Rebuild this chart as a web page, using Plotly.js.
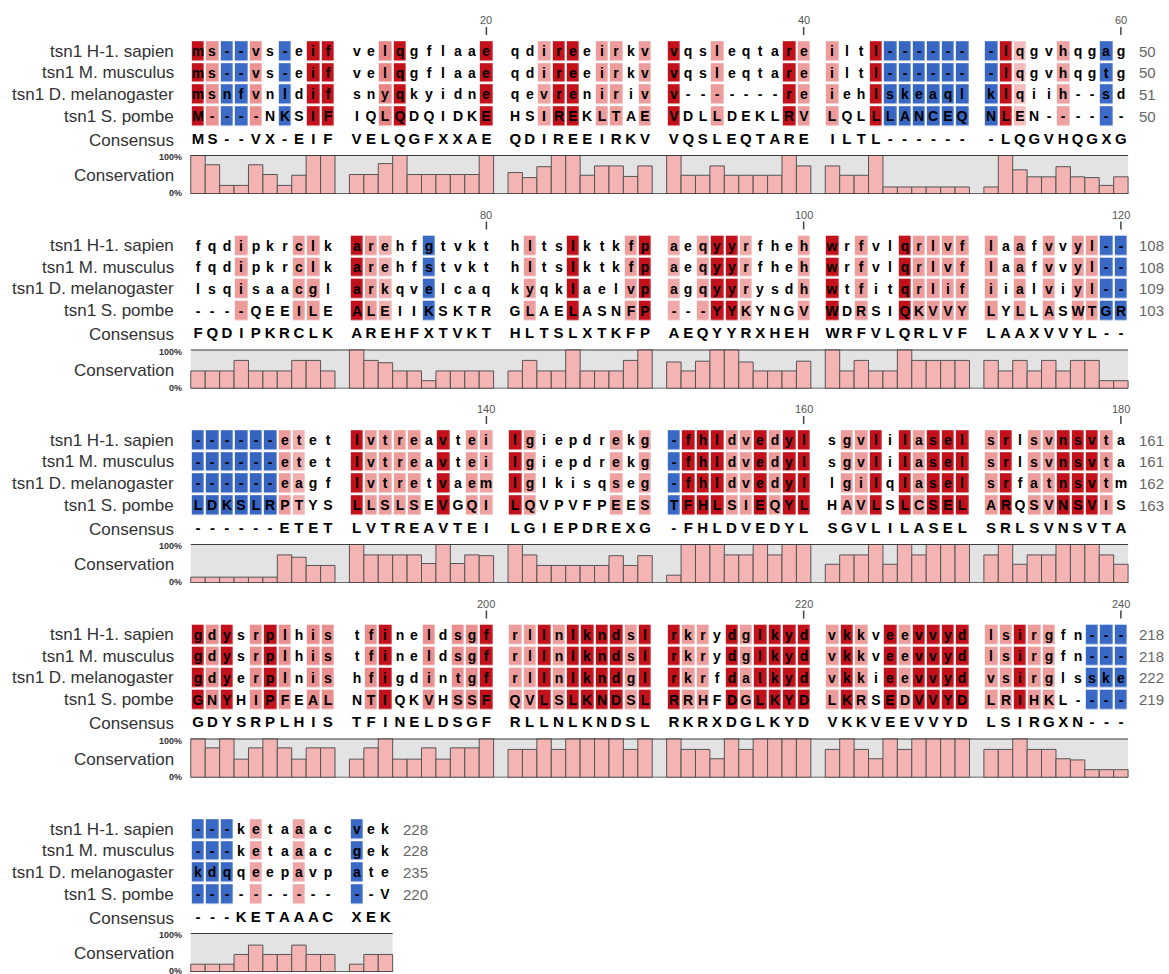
<!DOCTYPE html>
<html><head><meta charset="utf-8">
<script src="https://cdn.plot.ly/plotly-3.0.1.min.js"></script>
<style>html,body{margin:0;padding:0;background:#fff}#chart{width:1169px;height:974px}</style>
</head><body><div id="chart"></div>
<script>
// ---------- DATA ----------
const species = ["tsn1 H-1. sapien", "tsn1 M. musculus", "tsn1 D. melanogaster", "tsn1 S. pombe"];

const seqs1 = [
  "ms--vs-eif" + "velqgflaae" + "qdireeirkv" + "vqsleqtare" + "iltl------" + "-lqgvhqgag",
  "ms--vs-eif" + "velqgflaae" + "qdireeirkv" + "vqsleqtare" + "iltl------" + "-lqgvhqgtg",
  "msnfvnldif" + "snyqkyidne" + "qevreniriv" + "v-------re" + "iehlskeaql" + "klqiih--sd",
  "M----NKSIF" + "IQLQDQIDKE" + "HSIREKLTAE" + "VDLLDEKLRV" + "LQLLLANCEQ" + "NLEN------"
];
const consensus1 = "MS--VX-EIF" + "VELQGFXXAE" + "QDIREEIRKV" + "VQSLEQTARE" + "ILTL------" + "-LQGVHQGXG";
const conservation1 = [
  100, 75, 22, 22, 75, 50, 22, 48, 100, 100,
  50, 50, 78, 100, 50, 50, 50, 50, 50, 100,
  55, 42, 70, 100, 100, 48, 72, 72, 45, 72,
  100, 48, 48, 72, 48, 48, 48, 48, 100, 72,
  72, 48, 48, 100, 18, 18, 18, 18, 18, 18,
  18, 100, 62, 44, 44, 70, 44, 42, 22, 44
];
const ends1 = [50, 50, 51, 50];
const ticks1 = [20, 40, 60];

const seqs2 = [
  "fqdipkrclk" + "arehfgtvkt" + "hltslktkfp" + "aeqyyrfheh" + "wrfvlqrlvf" + "laafvvyl--",
  "fqdipkrclk" + "arehfstvkt" + "hltslktkfp" + "aeqyyrfheh" + "wrfvlqrlvf" + "laafvvyl--",
  "lsqisaacgl" + "arkqvelcaq" + "kyqklaelvp" + "agqyyrysdh" + "wtfitqrlif" + "iialviyl--",
  "----QEEILE" + "ALEIIKSKTR" + "GLAELASNFP" + "---YYKYNGV" + "WDRSIQKVVY" + "LYLLASWTGR"
];
const consensus2 = "FQDIPKRCLK" + "AREHFXTVKT" + "HLTSLXTKFP" + "AEQYYRXHEH" + "WRFVLQRLVF" + "LAAXVVYL--";
const conservation2 = [
  45, 45, 45, 72, 45, 45, 45, 72, 72, 45,
  100, 72, 66, 45, 45, 20, 45, 45, 45, 45,
  45, 72, 45, 45, 100, 45, 45, 45, 72, 100,
  68, 45, 70, 100, 100, 68, 45, 45, 45, 70,
  100, 45, 72, 45, 45, 100, 72, 72, 72, 72,
  72, 45, 72, 45, 72, 45, 72, 72, 20, 20
];
const ends2 = [108, 108, 109, 103];
const ticks2 = [80, 100, 120];

const seqs3 = [
  "------etet" + "lvtreavtei" + "lgiepdrekg" + "-fhldvedyl" + "sgvlilasel" + "srlsvnsvta",
  "------etet" + "lvtreavtei" + "lgiepdrekg" + "-fhldvedyl" + "sgvlilasel" + "srlsvnsvta",
  "------eagf" + "lvtretvaem" + "lglkisqseg" + "-fhldvedyl" + "lgilqlasel" + "srfatnsvtm",
  "LDKSLRPTYS" + "LLSLSEVGQI" + "LQVPVFPEES" + "TFHLSIEQYL" + "HAVLSLCSEL" + "ARQSVNSVIS"
];
const consensus3 = "------ETET" + "LVTREAVTEI" + "LGIEPDREXG" + "-FHLDVEDYL" + "SGVLILASEL" + "SRLSVNSVTA";
const conservation3 = [
  15, 15, 15, 15, 15, 15, 72, 66, 45, 45,
  100, 72, 72, 72, 72, 50, 100, 50, 72, 70,
  100, 72, 45, 45, 45, 45, 45, 70, 45, 70,
  20, 100, 100, 100, 72, 72, 100, 72, 100, 100,
  48, 72, 72, 100, 48, 100, 72, 100, 100, 100,
  72, 100, 48, 72, 72, 100, 100, 100, 72, 48
];
const ends3 = [161, 161, 162, 163];
const ticks3 = [140, 160, 180];

const seqs4 = [
  "gdysrplhis" + "tfineldsgf" + "rllnlkndsl" + "rkrydglkyd" + "vkkveevvyd" + "lsirgfn---",
  "gdysrplhis" + "tfineldsgf" + "rllnlkndsl" + "rkrydglkyd" + "vkkveevvyd" + "lsirgfn---",
  "gdyerplnis" + "hfigdintgf" + "rllnlkndgl" + "rkrfdalkyd" + "vkkieevvyd" + "vsirglsske",
  "GNYHIPFEAL" + "NTIQKVHSSF" + "QVLSLKNDSL" + "RRHFDGLKYD" + "LKRSEDVVYD" + "LRIHKL----"
];
const consensus4 = "GDYSRPLHIS" + "TFINELDSGF" + "RLLNLKNDSL" + "RKRXDGLKYD" + "VKKVEEVVYD" + "LSIRGXN---";
const conservation4 = [
  100, 76, 100, 47, 76, 100, 76, 47, 76, 76,
  47, 76, 100, 47, 47, 76, 47, 76, 76, 100,
  72, 72, 100, 72, 100, 100, 100, 100, 72, 100,
  100, 72, 72, 48, 100, 72, 100, 100, 100, 100,
  72, 100, 72, 48, 100, 72, 100, 100, 100, 100,
  72, 72, 100, 72, 72, 48, 45, 20, 20, 20
];
const ends4 = [218, 218, 222, 219];
const ticks4 = [200, 220, 240];

const seqs5 = [
  "---ketaaac" + "vek",
  "---ketaaac" + "gek",
  "kdqqeepavp" + "ate",
  "----------" + "--V"
];
const consensus5 = "---KETAAAC" + "XEK";
const conservation5 = [20, 20, 20, 45, 69, 45, 45, 69, 45, 45, 20, 45, 45];
const ends5 = [228, 228, 235, 220];
const ticks5 = [];

// ---------- LAYOUT CONSTANTS ----------
const W = 1169, H = 974;
const PX0 = 198, PITCH = 14.42;
const ROW1 = 51, BLOCK = 194.5, ROWH = 21.7;
const FONT = "Liberation Sans, Arial, sans-serif";

const blocks = [
  {seqs: seqs1, consensus: consensus1, conservation: conservation1, ends: ends1, ticks: ticks1},
  {seqs: seqs2, consensus: consensus2, conservation: conservation2, ends: ends2, ticks: ticks2},
  {seqs: seqs3, consensus: consensus3, conservation: conservation3, ends: ends3, ticks: ticks3},
  {seqs: seqs4, consensus: consensus4, conservation: conservation4, ends: ends4, ticks: ticks4},
  {seqs: seqs5, consensus: consensus5, conservation: conservation5, ends: ends5, ticks: ticks5}
];

const slotOf = i => i + Math.floor(i / 10);

const colorscale = [
  [0, '#2b57b2'], [0.25, '#3d6dca'], [0.32, '#5a84d3'], [0.34, '#ffffff'],
  [0.55, '#ffffff'], [0.57, '#f6cbcb'], [0.66, '#f1afaf'], [0.76, '#ea8f8f'],
  [0.88, '#dc5b5b'], [0.95, '#cb1f24'], [1, '#c3111b']
];

const traces = [];
const shapes = [];
const annotations = [];
const layout = {
  width: W, height: H, autosize: false,
  margin: {l: 0, r: 0, t: 0, b: 0, pad: 0},
  paper_bgcolor: '#ffffff', plot_bgcolor: 'rgba(0,0,0,0)',
  showlegend: false,
  font: {family: FONT, color: '#333'},
  xaxis: {range: [-PX0 / PITCH, (W - PX0) / PITCH], visible: false, fixedrange: true},
  yaxis: {range: [H, 0], visible: false, fixedrange: true, domain: [0, 1]},
  bargap: 0
};

blocks.forEach((blk, b) => {
  const y0 = ROW1 + b * BLOCK;
  const rowYs = [0, 1, 2, 3].map(r => y0 + r * ROWH);
  const consY = y0 + 89;
  const panelTop = consY + 15, panelBot = consY + 54;
  const n = blk.conservation.length;
  const nSlots = slotOf(n - 1) + 1;
  const slots = [];
  for (let i = 0; i < n; i++) slots.push(slotOf(i));
  const xs = [];
  for (let s = 0; s < nSlots; s++) xs.push(s);

  const z = rowYs.map(() => xs.map(() => null));
  const txt = rowYs.map(() => xs.map(() => ''));
  for (let r = 0; r < 4; r++) {
    for (let i = 0; i < n; i++) {
      z[r][slots[i]] = blk.conservation[i];
      txt[r][slots[i]] = blk.seqs[r][i];
    }
  }
  traces.push({
    type: 'heatmap', x: xs, y: rowYs, z: z, text: txt,
    texttemplate: '%{text}',
    textfont: {family: FONT, size: 14, color: '#000', weight: 'bold'},
    colorscale: colorscale, zmin: 0, zmax: 100, showscale: false,
    xgap: 2.2, ygap: 2.6, hoverinfo: 'skip', xaxis: 'x', yaxis: 'y'
  });

  // consensus row
  traces.push({
    type: 'scatter', mode: 'text', x: slots, y: slots.map(() => consY),
    text: blk.consensus.split(''),
    textfont: {family: FONT, size: 15, color: '#000', weight: 'bold'},
    hoverinfo: 'skip', xaxis: 'x', yaxis: 'y', cliponaxis: false
  });

  // conservation bars
  const yName = 'y' + (b + 2);
  layout['yaxis' + (b + 2)] = {
    domain: [1 - panelBot / H, 1 - panelTop / H], range: [0, 100],
    visible: false, fixedrange: true, anchor: 'x'
  };
  traces.push({
    type: 'bar', x: slots, y: blk.conservation, width: 1,
    marker: {color: '#f4b4b4', line: {color: '#555555', width: 1}},
    hoverinfo: 'skip', xaxis: 'x', yaxis: yName
  });
  shapes.push({type: 'rect', xref: 'x', yref: yName, x0: -0.5, x1: nSlots - 0.5, y0: 0, y1: 100,
    fillcolor: '#e3e3e3', line: {width: 0}, layer: 'below'});
  shapes.push({type: 'line', xref: 'x', yref: yName, x0: -0.5, x1: nSlots - 0.5, y0: 100, y1: 100,
    line: {color: '#3c3c3c', width: 2}});
  shapes.push({type: 'line', xref: 'x', yref: yName, x0: -0.5, x1: nSlots - 0.5, y0: 0, y1: 0,
    line: {color: '#3c3c3c', width: 1.5}});

  // ruler ticks
  blk.ticks.forEach(t => {
    const s = slotOf(t - 60 * b - 1);
    shapes.push({type: 'line', xref: 'x', yref: 'y', x0: s, x1: s, y0: y0 - 24, y1: y0 - 16,
      line: {color: '#444', width: 1.5}});
    annotations.push({xref: 'x', yref: 'y', x: s, y: y0 - 31, text: String(t), showarrow: false,
      font: {family: FONT, size: 11, color: '#555'}, xanchor: 'center', yanchor: 'middle'});
  });

  // row labels and end numbers
  species.forEach((name, r) => {
    annotations.push({xref: 'x', yref: 'y', x: -1.5, y: rowYs[r], text: name, showarrow: false,
      font: {family: FONT, size: 17, color: '#333'}, xanchor: 'right', yanchor: 'middle'});
    annotations.push({xref: 'x', yref: 'y', x: nSlots - 1 + 1.1, y: rowYs[r], text: String(blk.ends[r]),
      showarrow: false, font: {family: FONT, size: 15, color: '#666'}, xanchor: 'left', yanchor: 'middle'});
  });
  annotations.push({xref: 'x', yref: 'y', x: -1.5, y: consY, text: 'Consensus', showarrow: false,
    font: {family: FONT, size: 17, color: '#333'}, xanchor: 'right', yanchor: 'middle'});
  annotations.push({xref: 'x', yref: 'y', x: -1.5, y: (panelTop + panelBot) / 2 + 1, text: 'Conservation', showarrow: false,
    font: {family: FONT, size: 17, color: '#333'}, xanchor: 'right', yanchor: 'middle'});
  annotations.push({xref: 'x', yref: 'y', x: -1.0, y: panelTop + 2, text: '100%', showarrow: false,
    font: {family: FONT, size: 9, color: '#333', weight: 'bold'}, xanchor: 'right', yanchor: 'middle'});
  annotations.push({xref: 'x', yref: 'y', x: -1.0, y: panelBot - 1, text: '0%', showarrow: false,
    font: {family: FONT, size: 9, color: '#333', weight: 'bold'}, xanchor: 'right', yanchor: 'middle'});
});

layout.shapes = shapes;
layout.annotations = annotations;

Plotly.newPlot('chart', traces, layout, {staticPlot: true, displayModeBar: false});
</script>
</body></html>
